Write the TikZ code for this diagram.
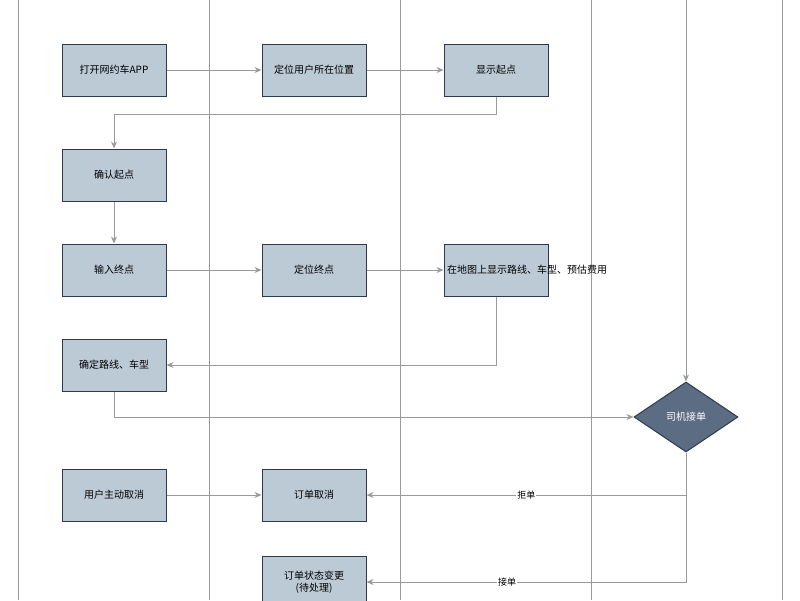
\documentclass[tikz,border=0pt]{standalone}
\usepackage{fontspec}
\setmainfont{Noto Sans CJK SC}
\usetikzlibrary{shapes.geometric,arrows.meta}
\definecolor{bx}{HTML}{BCCAD6}
\definecolor{bd}{HTML}{2B3A4E}
\definecolor{dm}{HTML}{5C6C82}
\definecolor{ln}{HTML}{9A9A9A}
\begin{document}
\begin{tikzpicture}[x=1pt,y=-1pt,
 box/.style={draw=bd,line width=1pt,fill=bx,minimum width=104pt,minimum height=52pt,text width=98pt,align=center,font=\fontsize{10}{12}\selectfont,inner sep=2pt},
 arr/.style={draw=ln,line width=1pt,-{Stealth[length=7pt,width=6pt]}},
 lane/.style={draw=ln,line width=1pt},
 lbl/.style={fill=white,font=\fontsize{9}{10}\selectfont,inner sep=1pt}]
\useasboundingbox (0,0) rectangle (800,600);
\foreach \x in {18,209,400,591,782} \draw[lane] (\x,0) -- (\x,600);
\node[box] (A) at (114,70) {打开网约车APP};
\node[box] (B) at (314,70) {定位用户所在位置};
\node[box] (C) at (496,70) {显示起点};
\node[box] (D) at (114,175) {确认起点};
\node[box] (E) at (114,270) {输入终点};
\node[box] (F) at (314,270) {定位终点};
\node[box] (G) at (496,270) {在地图上显示路线、车型、预估费用};
\node[box] (H) at (114,365) {确定路线、车型};
\node[diamond,draw=bd,line width=1pt,fill=dm,text=white,minimum width=104pt,minimum height=70pt,aspect=1.5,inner sep=0pt,font=\fontsize{10}{12}\selectfont] (X) at (686,417) {司机接单};
\node[box] (I) at (114,495) {用户主动取消};
\node[box] (J) at (314,495) {订单取消};
\node[box] (K) at (314,582) {订单状态变更\\(待处理)};
\coordinate (T) at (686,0);
\draw[arr] (A) -- (B);
\draw[arr] (B) -- (C);
\draw[arr] (C.south) |- (114,114) -- (D.north);
\draw[arr] (D) -- (E);
\draw[arr] (E) -- (F);
\draw[arr] (F) -- (G);
\draw[arr] (G.south) |- (H.east);
\draw[arr] (H.south) |- (X.west);
\draw[arr] (T) -- (X.north);
\draw[arr] (I) -- (J);
\draw[arr] (X.south) |- node[lbl,pos=0.75]{拒单} (J.east);
\draw[arr] (X.south) |- node[lbl,pos=0.78]{接单} (K.east);
\end{tikzpicture}
\end{document}
